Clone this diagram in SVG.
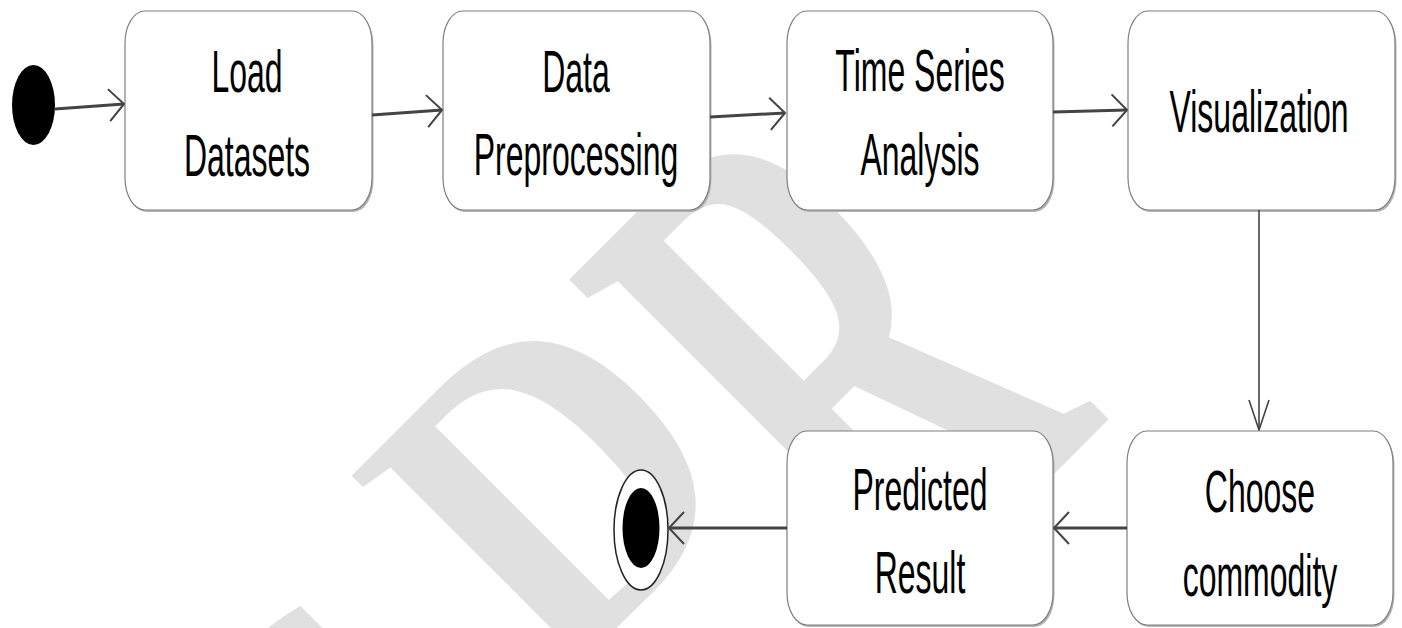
<svg xmlns="http://www.w3.org/2000/svg" width="1402" height="628" viewBox="0 0 1402 628">
<style>
.box{fill:#ffffff;stroke:#7f7f7f;stroke-width:1.2}
.shadow{fill:#b4b4b4}
.t{font-family:"Liberation Sans",Arial,sans-serif;font-size:32px;fill:#000;text-anchor:middle}
.c{fill:none;stroke:#444;stroke-linecap:butt}
.h{stroke-width:3}
.v{stroke-width:1.6}
.wm{font-family:"Liberation Serif","Times New Roman",serif;font-weight:bold;font-size:450px;fill:#e0e0e0}
</style>
<defs>
<marker id="ah" viewBox="-20 -20 24 40" markerWidth="24" markerHeight="40" refX="0" refY="0" orient="auto" markerUnits="userSpaceOnUse" overflow="visible">
<path d="M-15,-16 L0,0 L-15,16" fill="none" stroke="#444" stroke-width="2" stroke-linejoin="round"/>
</marker>
<marker id="av" viewBox="-34 -14 38 28" markerWidth="38" markerHeight="28" refX="0" refY="0" orient="auto" markerUnits="userSpaceOnUse" overflow="visible">
<path d="M-30,-10 L0,0 L-30,10" fill="none" stroke="#444" stroke-width="1.6" stroke-linejoin="round"/>
</marker>
</defs>
<rect width="1402" height="628" fill="#ffffff"/>
<g id="watermark">
<text class="wm" transform="translate(555,759) rotate(-45) scale(0.88,1.0)" x="-293" y="0">S</text>
<text class="wm" transform="translate(555,689) rotate(-45) scale(0.88,1.0)" x="0" y="0">D</text>
<text class="wm" transform="translate(675,853) rotate(-45) scale(0.88,1.63)" x="368" y="0">R</text>
</g>
<g id="n-start"><ellipse cx="33.5" cy="105" rx="21.5" ry="40" fill="#000"/></g>
<g id="n-load">
<rect class="shadow" x="126.5" y="13" width="247" height="199" rx="20" ry="32"/>
<rect class="box" x="125" y="11" width="247" height="199" rx="20" ry="32"/>
<text class="t" transform="translate(247,92) scale(1,1.83)">Load</text>
<text class="t" transform="translate(247,176) scale(1,1.83)">Datasets</text>
</g>
<g id="n-prep">
<rect class="shadow" x="444.5" y="13" width="267" height="199" rx="20" ry="32"/>
<rect class="box" x="443" y="11" width="267" height="199" rx="20" ry="32"/>
<text class="t" transform="translate(576,92) scale(1,1.83)">Data</text>
<text class="t" transform="translate(576,175) scale(1,1.83)">Preprocessing</text>
</g>
<g id="n-tsa">
<rect class="shadow" x="788.5" y="13" width="266" height="199" rx="20" ry="32"/>
<rect class="box" x="787" y="11" width="266" height="199" rx="20" ry="32"/>
<text class="t" transform="translate(920,91) scale(1,1.83)">Time Series</text>
<text class="t" transform="translate(920,175) scale(1,1.83)">Analysis</text>
</g>
<g id="n-vis">
<rect class="shadow" x="1129.5" y="13" width="267" height="199" rx="20" ry="32"/>
<rect class="box" x="1128" y="11" width="267" height="199" rx="20" ry="32"/>
<text class="t" transform="translate(1259,132) scale(1,1.83)">Visualization</text>
</g>
<g id="n-choose">
<rect class="shadow" x="1128.5" y="433" width="266" height="194" rx="20" ry="32"/>
<rect class="box" x="1127" y="431" width="266" height="194" rx="20" ry="32"/>
<text class="t" transform="translate(1260,512) scale(1,1.83)">Choose</text>
<text class="t" transform="translate(1260,596) scale(1,1.83)">commodity</text>
</g>
<g id="n-pred">
<rect class="shadow" x="788.5" y="433" width="266" height="194" rx="20" ry="32"/>
<rect class="box" x="787" y="431" width="266" height="194" rx="20" ry="32"/>
<text class="t" transform="translate(920,510) scale(1,1.83)">Predicted</text>
<text class="t" transform="translate(920,593) scale(1,1.83)">Result</text>
</g>
<g id="n-end">
<ellipse cx="641" cy="530" rx="27" ry="60" fill="#fff" stroke="#222" stroke-width="1.5"/>
<ellipse cx="641" cy="528" rx="18.5" ry="40" fill="#000"/>
</g>
<g id="connectors">
<line class="c h" x1="55" y1="109" x2="124" y2="104" marker-end="url(#ah)"/>
<line class="c h" x1="372" y1="115" x2="442" y2="110" marker-end="url(#ah)"/>
<line class="c h" x1="710" y1="117" x2="785" y2="113" marker-end="url(#ah)"/>
<line class="c h" x1="1053" y1="112" x2="1127" y2="110" marker-end="url(#ah)"/>
<line class="c v" x1="1259" y1="210" x2="1259" y2="430" marker-end="url(#av)"/>
<line class="c h" x1="1127" y1="528" x2="1054" y2="528" marker-end="url(#ah)"/>
<line class="c h" x1="787" y1="528" x2="669" y2="528" marker-end="url(#ah)"/>
</g>
</svg>
